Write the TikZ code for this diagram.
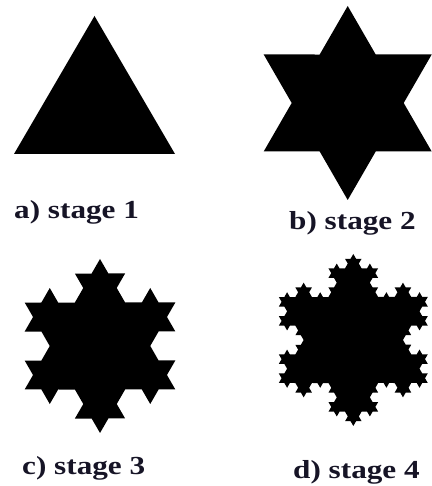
\documentclass[tikz,border=0pt]{standalone}
\usepackage{fontspec}
\setmainfont{Liberation Serif}
\usepackage{graphicx}
\usetikzlibrary{decorations.fractals}
\definecolor{labelink}{RGB}{22,20,38}
\tikzset{
  shapefill/.style={fill=black, draw=none},
  stagelabel/.style={anchor=base west, inner sep=0pt, text=labelink,
    font=\fontsize{26}{30}\selectfont\bfseries},
  koch/.style={decoration={Koch snowflake}}
}
\newcommand{\widelabel}[1]{\scalebox{1.2}[1]{#1}}
\begin{document}
\begin{tikzpicture}[x=1pt,y=1pt]
\useasboundingbox[fill=white] (0,0) rectangle (431,486);
% stage 1: triangle
\fill[shapefill] (94.5,470) -- (175,332) -- (14,332) -- cycle;
% stage 2: hexagram (level 1)
\begin{scope}[shift={(347.7,383)}]
\coordinate (b1) at (90:97);
\coordinate (b2) at (-30:97);
\coordinate (b3) at (210:97);
\fill[shapefill, koch] decorate{ (b1) -- (b2) -- (b3) -- (b1) };
\end{scope}
% stage 3 (level 2)
\begin{scope}[shift={(100,140)}]
\coordinate (c1) at (90:87);
\coordinate (c2) at (-30:87);
\coordinate (c3) at (210:87);
\fill[shapefill, koch] decorate{ decorate{ (c1) -- (c2) -- (c3) -- (c1) } };
\end{scope}
% stage 4 (level 3)
\begin{scope}[shift={(353.3,146)}]
\coordinate (d1) at (90:86);
\coordinate (d2) at (-30:86);
\coordinate (d3) at (210:86);
\fill[shapefill, koch] decorate{ decorate{ decorate{ (d1) -- (d2) -- (d3) -- (d1) } } };
\end{scope}
% labels
\node[stagelabel] (la) at (14,267) {\widelabel{a) stage 1}};
\node[stagelabel] (lb) at (289,256) {\widelabel{b) stage 2}};
\node[stagelabel] (lc) at (22,11) {\widelabel{c) stage 3}};
\node[stagelabel] (ld) at (293,8) {\widelabel{d) stage 4}};
\end{tikzpicture}
\end{document}
